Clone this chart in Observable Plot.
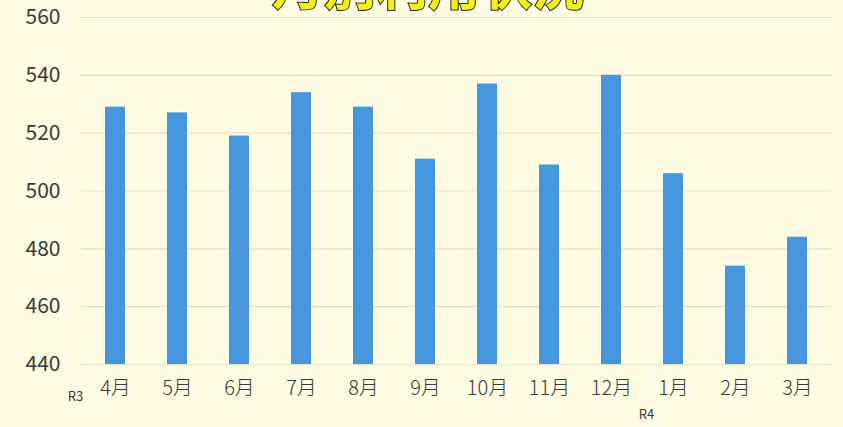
<!DOCTYPE html>
<html>
<head>
<meta charset="utf-8">
<script src="https://cdn.jsdelivr.net/npm/d3@7"></script>
<script src="https://cdn.jsdelivr.net/npm/@observablehq/plot@0.6"></script>
<style>
  html, body { margin: 0; padding: 0; background: #fdfbe1; }
  #chart { width: 843px; height: 427px; overflow: hidden; }
</style>
</head>
<body>
<div id="chart"></div>
<script>
const months = ["4月","5月","6月","7月","8月","9月","10月","11月","12月","1月","2月","3月"];
const values = [529, 527, 519, 534, 529, 511, 537, 509, 540, 506, 474, 484];
const yTicks = [440, 460, 480, 500, 520, 540, 560];
const eraMonths = ["4月", "1月"];
const eraLabels = ["R3", "R4"];
const titleText = "月別利用状況";

const data = months.map((m, i) => ({month: m, value: values[i]}));
const eras = eraMonths.map((m, i) => ({month: m, label: eraLabels[i]}));

const chart = Plot.plot({
  width: 843,
  height: 427,
  marginLeft: 81,
  marginRight: 12,
  marginTop: 17,
  marginBottom: 63,
  style: {background: "#fdfbe1", fontFamily: "Noto Sans CJK JP, Noto Sans, sans-serif", color: "#3a3a3a"},
  x: {domain: months, paddingInner: 0.68, paddingOuter: 0.34, label: null, tickSize: 0, tickPadding: 16},
  y: {domain: [440, 560], ticks: yTicks, label: null, tickSize: 0, tickPadding: 21},
  marks: [
    Plot.gridY(yTicks, {stroke: "#e4dfc2", strokeOpacity: 1, strokeWidth: 1.2}),
    Plot.barY(data, {x: "month", y1: 440, y2: "value", fill: "#4596dc"}),
    Plot.axisY({ticks: yTicks, tickSize: 0, tickPadding: 21, fontSize: 21, label: null, fill: "#3a3a3a"}),
    Plot.axisX({tickSize: 0, tickPadding: 16, fontSize: 20, label: null, fill: "#3a3a3a", fontWeight: 300}),
    Plot.text(eras.slice(0,1), {x: "month", text: "label", frameAnchor: "bottom", dx: -40, dy: 36, fontSize: 13, fill: "#3a3a3a"}),
    Plot.text(eras.slice(1), {x: "month", text: "label", frameAnchor: "bottom", dx: -27, dy: 54, fontSize: 13, fill: "#3a3a3a"})
  ]
});
document.getElementById("chart").append(chart);

d3.select(chart).append("text")
  .attr("x", 428).attr("y", 5)
  .attr("text-anchor", "middle")
  .attr("font-size", 52).attr("font-weight", "bold")
  .attr("font-family", "Noto Sans CJK JP, sans-serif")
  .attr("fill", "#f3ef1a").attr("stroke", "#2a2a1a").attr("stroke-width", 2)
  .attr("paint-order", "stroke")
  .text(titleText);
</script>
</body>
</html>
